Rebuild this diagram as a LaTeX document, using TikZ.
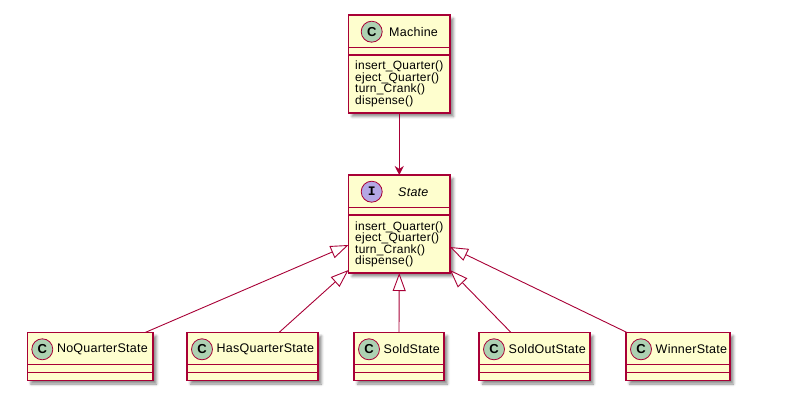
\documentclass[tikz,border=0pt]{standalone}
\usepackage{fontspec}
\setmainfont{Liberation Sans}[LetterSpace=2]
\newfontfamily\circfont{Liberation Sans}
\newfontfamily\ifont{Liberation Mono}
\usetikzlibrary{arrows.meta,shadows.blur}
\definecolor{boxfill}{HTML}{FEFECE}
\definecolor{border}{HTML}{A80036}
\definecolor{cgreen}{HTML}{ADD1B2}
\definecolor{ipurple}{HTML}{B4A7E5}
\tikzset{
  umlbox/.style={draw=border, line width=1.4pt, fill=boxfill, inner sep=0pt, outer sep=0pt,
    anchor=north west,
    blur shadow={shadow xshift=3.5pt, shadow yshift=-3.5pt, shadow blur radius=2.5pt, shadow opacity=45}},
  sepline/.style={draw=border, line width=1.4pt},
  circ/.style={circle, draw=border, line width=0.8pt, minimum size=21pt, inner sep=0pt},
  namelbl/.style={anchor=west, inner sep=0pt, font=\fontsize{12.5pt}{13pt}\selectfont},
  methlbl/.style={anchor=base west, inner sep=0pt, font=\fontsize{12pt}{13pt}\selectfont},
  assoc/.style={draw=border, line width=0.9pt, -{Stealth[length=9pt,width=9pt,inset=3pt]}},
  inh/.style={draw=border, line width=0.9pt, -{Triangle[length=18pt,width=13pt,fill=white]}}
}
\begin{document}
\begin{tikzpicture}[x=1pt,y=-1pt]
\useasboundingbox (0,0) rectangle (800,414);
% Machine
\node[umlbox, minimum width=101.5pt, minimum height=98pt] (m) at (348.5,15) {};
\draw[sepline] (348.5,47.5) -- (450,47.5);
\draw[sepline] (348.5,55) -- (450,55);
\node[circ, fill=cgreen] (mc) at (371.7,31.7) {\circfont\fontsize{13pt}{13pt}\selectfont\bfseries C};
\node[namelbl] (mn) at (389,31.7) {Machine};
\node[methlbl] (m1) at (355,70) {insert\_Quarter()};
\node[methlbl] (m2) at (355,81.5) {eject\_Quarter()};
\node[methlbl] (m3) at (355,93) {turn\_Crank()};
\node[methlbl] (m4) at (355,104.5) {dispense()};
% State
\node[umlbox, minimum width=101.5pt, minimum height=98pt] (st) at (348.5,175) {};
\draw[sepline] (348.5,207.5) -- (450,207.5);
\draw[sepline] (348.5,215) -- (450,215);
\node[circ, fill=ipurple] (sc) at (371.7,191.7) {\ifont\fontsize{13pt}{13pt}\selectfont\bfseries I};
\node[namelbl] (sn) at (398,191.7) {\itshape State};
\node[methlbl] (s1) at (355,230) {insert\_Quarter()};
\node[methlbl] (s2) at (355,241.5) {eject\_Quarter()};
\node[methlbl] (s3) at (355,253) {turn\_Crank()};
\node[methlbl] (s4) at (355,264.5) {dispense()};
% Bottom classes
\foreach \nm/\lx/\rx/\txt in {nq/27.3/153/NoQuarterState, hq/187/318/HasQuarterState, so/354/444/SoldState, sx/479/590/SoldOutState, wi/626/730/WinnerState}{
  \pgfmathsetmacro{\bw}{\rx-\lx}
  \node[umlbox, minimum width=\bw pt, minimum height=48pt] (\nm) at (\lx,332.5) {};
  \draw[sepline] (\lx,364.5) -- (\rx,364.5);
  \draw[sepline] (\lx,372.5) -- (\rx,372.5);
  \node[circ, fill=cgreen] (\nm c) at (\lx+15,349.3) {\circfont\fontsize{13pt}{13pt}\selectfont\bfseries C};
  \node[namelbl] (\nm n) at (\lx+29.5,349.3) {\txt};
}
% connectors
\draw[assoc] (m.south) -- (st.north);
\draw[inh] ([xshift=55pt]nq.north) -- ([yshift=-21pt]st.west);
\draw[inh] ([xshift=26.5pt]hq.north) -- ([yshift=3pt]st.south west);
\draw[inh] (so.north) -- (st.south);
\draw[inh] ([xshift=-23.5pt]sx.north) -- ([yshift=3pt]st.south east);
\draw[inh] ([xshift=-51pt]wi.north) -- ([yshift=-23pt]st.east);
\end{tikzpicture}
\end{document}
